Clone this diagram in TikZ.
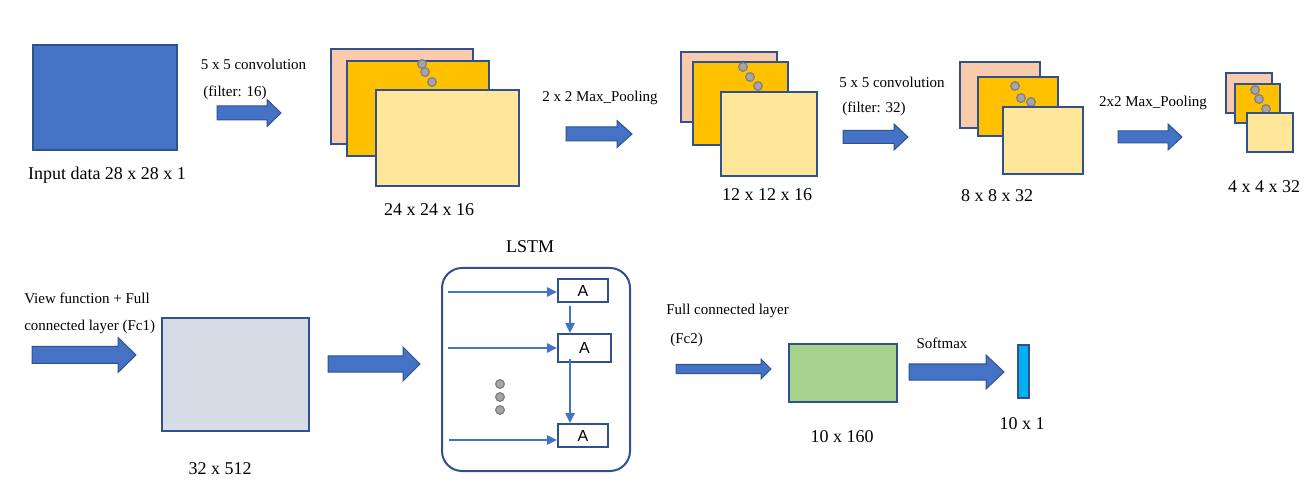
\documentclass[tikz,border=0pt]{standalone}
\usepackage{fontspec}
\setmainfont{Liberation Serif}
\setsansfont{Liberation Sans}
\usetikzlibrary{fit,arrows.meta}
\definecolor{mainblue}{HTML}{4472C4}
\definecolor{edgeblue}{HTML}{2F528F}
\definecolor{pinkc}{HTML}{F8CBAD}
\definecolor{orangec}{HTML}{FFC000}
\definecolor{yellowc}{HTML}{FFE699}
\definecolor{dotgrey}{HTML}{A5A5A5}
\definecolor{dotedge}{HTML}{7F7F7F}
\definecolor{greyc}{HTML}{D6DCE5}
\definecolor{greenc}{HTML}{A9D18E}
\definecolor{cyanc}{HTML}{00B0F0}
\newcommand{\myblockarrow}[6]{%
  \filldraw[blockarrow] (#1,#4-#5) -- (#3,#4-#5) -- (#3,#4-#6) -- (#2,#4) -- (#3,#4+#6) -- (#3,#4+#5) -- (#1,#4+#5) -- cycle;}
\tikzset{
  big/.style={font=\fontsize{13.5}{16}\selectfont, inner sep=0pt},
  small/.style={font=\fontsize{11.25}{13}\selectfont, inner sep=0pt},
  layer/.style={draw=edgeblue, line width=1.5pt, inner sep=0pt},
  blockarrow/.style={fill=mainblue, draw=edgeblue, line width=0.75pt},
  gdot/.style={circle, fill=dotgrey, draw=dotedge, line width=0.9pt, inner sep=0pt, minimum size=6.5pt},
  abox/.style={draw=edgeblue, line width=1.5pt, inner sep=0pt, fill=white},
  atext/.style={font=\sffamily\fontsize{12}{14}\selectfont, inner sep=0pt},
  lstmarrow/.style={draw=mainblue, line width=1.1pt, -{Triangle[length=7.5pt,width=7pt]}}
}
\begin{document}
\begin{tikzpicture}[x=0.75pt,y=-0.75pt]
\useasboundingbox (0,0) rectangle (1314,502);
% ---------- Row 1 ----------
\node[layer, draw=edgeblue, line width=0.8pt, fill=mainblue, fit={(33,45)(177,150)}] (inp) {};
\node[big] (inplab) at (107,175) {Input data 28 x 28 x 1};
\node[small] (conv1) at (253.5,64) {5 x 5 convolution};
\node[small] (filt1) at (235,93) {(filter: 16)};
\myblockarrow{217}{281}{267}{113}{7}{13.5}
% stack 1
\node[layer, fill=pinkc, fit={(331,49)(473,144)}] (s1a) {};
\node[layer, fill=orangec, fit={(347,61)(489,156)}] (s1b) {};
\node[gdot] (d1a) at (422,64) {};
\node[gdot] (d1b) at (425,72) {};
\node[gdot] (d1c) at (432,82) {};
\node[layer, fill=yellowc, fit={(376,90)(519,186)}] (s1c) {};
\node[big] (l24) at (429,210) {24 x 24 x 16};
\node[small] (mp1) at (600,98) {2 x 2 Max\_Pooling};
\myblockarrow{566}{632}{617}{134}{7}{13.5}
% stack 2
\node[layer, fill=pinkc, fit={(681,52)(777,122)}] (s2a) {};
\node[layer, fill=orangec, fit={(693,62)(788,145)}] (s2b) {};
\node[gdot] (d2a) at (743,67) {};
\node[gdot] (d2b) at (750,77) {};
\node[gdot] (d2c) at (758,86) {};
\node[layer, fill=yellowc, fit={(721,92)(817,176)}] (s2c) {};
\node[big] (l12) at (767,195) {12 x 12 x 16};
\node[small] (conv2) at (892,82) {5 x 5 convolution};
\node[small] (filt2) at (874,109) {(filter: 32)};
\myblockarrow{843}{908}{894}{137}{6.5}{13}
% stack 3
\node[layer, fill=pinkc, fit={(960,62)(1040,128)}] (s3a) {};
\node[layer, fill=orangec, fit={(978,77)(1058,136)}] (s3b) {};
\node[gdot] (d3a) at (1015,86) {};
\node[gdot] (d3b) at (1021,98) {};
\node[gdot] (d3c) at (1031,102) {};
\node[layer, fill=yellowc, fit={(1003,107)(1083,174)}] (s3c) {};
\node[big] (l8) at (997,196) {8 x 8 x 32};
\node[small] (mp2) at (1153,103) {2x2 Max\_Pooling};
\myblockarrow{1118}{1182}{1168}{137}{6}{13}
% stack 4
\node[layer, fill=pinkc, fit={(1226,73)(1272,113)}] (s4a) {};
\node[layer, fill=orangec, fit={(1235,84)(1280,123)}] (s4b) {};
\node[gdot] (d4a) at (1255,90) {};
\node[gdot] (d4b) at (1259,99) {};
\node[gdot] (d4c) at (1266,109) {};
\node[layer, fill=yellowc, fit={(1247,113)(1293,152)}] (s4c) {};
\node[big] (l4) at (1264,187) {4 x 4 x 32};
% ---------- Row 2 ----------
\node[small, anchor=west] (view) at (24,298) {View function + Full};
\node[small, anchor=west] (conn) at (24,327) {connected layer (Fc1)};
\myblockarrow{32}{136}{118}{355}{8.5}{17.5}
\node[layer, fill=greyc, fit={(162,318)(309,431)}] (fc1) {};
\node[big] (l32) at (220,469) {32 x 512};
\myblockarrow{328}{420}{403}{364}{8}{17}
% LSTM
\node[big] (lstmlab) at (530,247) {LSTM};
\node[layer, rounded corners=15pt, fit={(442,268)(630,471)}] (lstm) {};
\node[abox, fit={(558,279)(608,302)}] (a1) {};
\node[atext] (a1t) at (a1.center) {A};
\node[abox, fit={(558,334)(611,362)}] (a2) {};
\node[atext] (a2t) at (a2.center) {A};
\node[abox, fit={(558,424)(608,447)}] (a3) {};
\node[atext] (a3t) at (a3.center) {A};
\coordinate (h1) at (448,292);
\coordinate (h2) at (448,348);
\coordinate (h3) at (449,440);
\draw[lstmarrow] (h1) -- (h1 -| a1.west);
\draw[lstmarrow] (h2) -- (h2 -| a2.west);
\draw[lstmarrow] (h3) -- (h3 -| a3.west);
\coordinate (v1) at (570,306);
\coordinate (v2) at (570,359);
\draw[lstmarrow] (v1) -- (v1 |- a2.north);
\draw[lstmarrow] (v2) -- (v2 |- a3.north);
\node[gdot] (ld1) at (500,384) {};
\node[gdot] (ld2) at (500,397) {};
\node[gdot] (ld3) at (500,410) {};
% FC2
\node[small, anchor=west] (fc2a) at (666,311) {Full connected layer};
\node[small, anchor=west] (fc2b) at (670,340) {(Fc2)};
\myblockarrow{676}{771}{761}{369}{4.5}{10}
\node[layer, fill=greenc, fit={(789,344)(897,402)}] (fc2) {};
\node[big] (l10160) at (842,437) {10 x 160};
\node[small] (soft) at (942,343) {Softmax};
\myblockarrow{909}{1004}{986}{372}{8}{17}
\node[layer, line width=1.2pt, fill=cyanc, fit={(1018,345)(1029,398)}] (outv) {};
\node[big] (l101) at (1022,424) {10 x 1};
\end{tikzpicture}
\end{document}
